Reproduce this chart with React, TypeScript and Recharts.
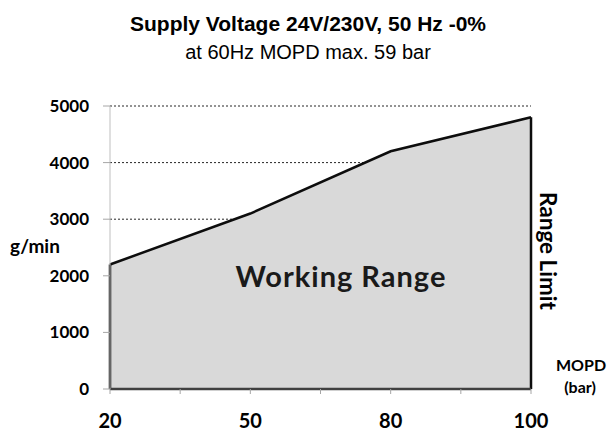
import { AreaChart, Area, XAxis, YAxis, CartesianGrid, ReferenceLine } from "recharts";

const categories = ["20", "50", "80", "100"];
const flowValues = [2200, 3100, 4200, 4800];
const yTicks = [0, 1000, 2000, 3000, 4000, 5000];
// minor tick marks sit halfway between the pressure categories
const xTicks = [0, 0.5, 1, 1.5, 2, 2.5, 3];

const data = categories.map((label, i) => ({ pos: i, label, flow: flowValues[i] }));

const W = 608;
const H = 431;
const LABEL_FONT = "Lato, 'Open Sans', sans-serif";

function XTick(props: any) {
  const { x, y, payload } = props;
  const v = payload.value;
  if (!Number.isInteger(v)) return null;
  return (
    <text x={x} y={y + 32} textAnchor="middle" fontFamily={LABEL_FONT} fontWeight={700} fontSize={20} fill="#000">
      {categories[v]}
    </text>
  );
}

export default function App() {
  const last = flowValues.length - 1;
  return (
    <div style={{ position: "absolute", left: 0, top: 0, width: W, height: H, background: "#fff" }}>
      <AreaChart width={W} height={H} data={data} margin={{ top: 106, right: 77, left: 0, bottom: 0 }}>
        <CartesianGrid vertical={false} stroke="#262626" strokeDasharray="2 2" />
        <XAxis
          dataKey="pos"
          type="number"
          domain={[0, last]}
          ticks={xTicks}
          interval={0}
          height={42}
          tick={<XTick />}
          tickSize={5}
          tickLine={{ stroke: "#a6a6a6" }}
          axisLine={{ stroke: "#404040", strokeWidth: 2.5 }}
        />
        <YAxis
          domain={[0, 5000]}
          ticks={yTicks}
          interval={0}
          width={110}
          tickSize={7}
          tickMargin={14}
          tickLine={{ stroke: "#a6a6a6" }}
          axisLine={{ stroke: "#bfbfbf" }}
          tick={{ fontFamily: LABEL_FONT, fontWeight: 700, fontSize: 17, fill: "#000" }}
        />
        <Area
          type="linear"
          dataKey="flow"
          stroke="#0d0d0d"
          strokeWidth={2.5}
          fill="#d9d9d9"
          fillOpacity={1}
          dot={false}
          activeDot={false}
          isAnimationActive={false}
        />
        {/* close the working range on both sides */}
        <ReferenceLine
          segment={[{ x: 0, y: 0 }, { x: 0, y: flowValues[0] }]}
          stroke="#0d0d0d"
          strokeWidth={2.5}
        />
        <ReferenceLine
          segment={[{ x: last, y: 0 }, { x: last, y: flowValues[last] }]}
          stroke="#0d0d0d"
          strokeWidth={2.5}
        />
      </AreaChart>
      <svg width={W} height={H} style={{ position: "absolute", left: 0, top: 0, pointerEvents: "none" }}>
        <text x={308} y={31} textAnchor="middle" fontFamily="'Liberation Sans', Arial, sans-serif" fontWeight={700} fontSize={21} fill="#000">
          Supply Voltage 24V/230V, 50 Hz -0%
        </text>
        <text x={308} y={59} textAnchor="middle" fontFamily="'Liberation Sans', Arial, sans-serif" fontSize={20} fill="#000">
          at 60Hz MOPD max. 59 bar
        </text>
        <text x={341} y={287} textAnchor="middle" fontFamily={LABEL_FONT} fontWeight={700} fontSize={29} letterSpacing={1} fill="#1a1a1a">
          Working Range
        </text>
        <text x={35} y={253} textAnchor="middle" fontFamily={LABEL_FONT} fontWeight={700} fontSize={19} fill="#000">
          g/min
        </text>
        <text
          x={540}
          y={251}
          textAnchor="middle"
          transform="rotate(90 540 251)"
          fontFamily={LABEL_FONT}
          fontWeight={700}
          fontSize={22.5}
          fill="#000"
        >
          Range Limit
        </text>
        <text x={581} y={371} textAnchor="middle" fontFamily={LABEL_FONT} fontWeight={700} fontSize={16} fill="#000">
          MOPD
        </text>
        <text x={580} y={393} textAnchor="middle" fontFamily={LABEL_FONT} fontWeight={700} fontSize={16} fill="#000">
          (bar)
        </text>
      </svg>
    </div>
  );
}
